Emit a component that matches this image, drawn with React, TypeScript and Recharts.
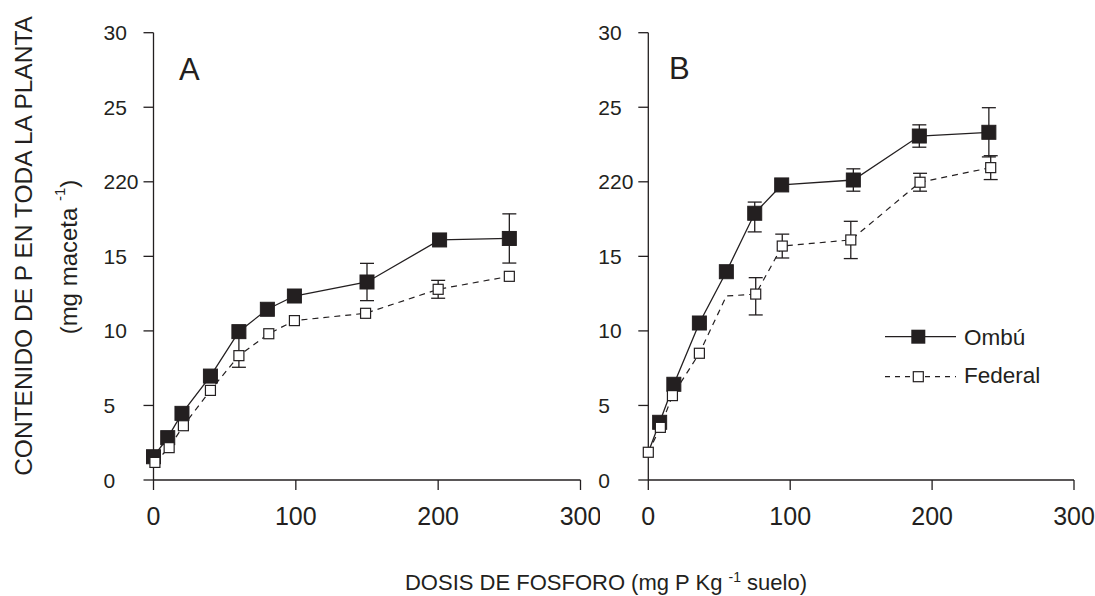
import React from "react";
import { ErrorBar, Legend, Line, LineChart, XAxis, YAxis } from "recharts";

const FONT = '"Liberation Sans", Arial, Helvetica, sans-serif';
const INK = "#231f20";

// ejes
const X_TICKS = [0, 100, 200, 300];
const Y_TICKS = [0, 5, 10, 15, 20, 25, 30];
const Y_TICK_LABELS = ["0", "5", "10", "15", "220", "25", "30"];

// Panel A
const A_OMBU_DOSE = [0, 10, 20, 40, 60, 80, 99, 150, 201, 250];
const A_OMBU_P = [1.56, 2.84, 4.47, 6.97, 9.95, 11.45, 12.34, 13.28, 16.1, 16.2];
const A_OMBU_ERR = [null, null, null, null, null, null, null, 1.25, null, 1.65];

const A_FED_DOSE = [1, 11, 21, 40, 60, 81, 99, 149, 200, 250];
const A_FED_P = [1.18, 2.17, 3.64, 6.01, 8.34, 9.81, 10.69, 11.18, 12.79, 13.66];
const A_FED_ERR = [null, null, null, null, [0.78, 1.2], null, null, null, 0.6, null];

// Panel B
const B_OMBU_DOSE = [0, 8, 18, 36, 55, 75, 94, 144.5, 191, 240];
const B_OMBU_P = [1.86, 3.87, 6.42, 10.53, 13.97, 17.89, 19.79, 20.12, 23.07, 23.32];
const B_OMBU_ERR = [null, null, null, null, null, [1.25, 0.75], null, 0.75, 0.75, 1.65];

const B_FED_DOSE = [0, 8.5, 17, 36, 55, 75.7, 94.4, 142.7, 191.5, 241.3];
const B_FED_P = [1.86, 3.53, 5.66, 8.5, 12.34, 12.47, 15.69, 16.1, 19.97, 20.95];
const B_FED_ERR = [null, null, null, null, null, [1.4, 1.1], 0.8, 1.25, 0.6, 0.8];

const B_OMBU_NO_MARK = [0];
const B_FED_NO_MARK = [4];

type Pt = { x: number; y: number; err: number | number[] | null };

function toRows(dose: number[], p: number[], err: (number | number[] | null)[]): Pt[] {
  return dose.map((x, i) => ({ x, y: p[i], err: err[i] }));
}

function squareDot(size: number, filled: boolean, hidden: number[] = []) {
  return (props: any) => {
    const { cx, cy, index } = props;
    const key = `dot-${index}`;
    if (cx == null || cy == null || hidden.includes(index)) return <g key={key} />;
    return (
      <rect
        key={key}
        x={cx - size / 2}
        y={cy - size / 2}
        width={size}
        height={size}
        fill={filled ? INK : "#fff"}
        stroke={INK}
        strokeWidth={filled ? 1 : 1.2}
      />
    );
  };
}

function YTick(props: any) {
  const { x, y, payload } = props;
  const i = Y_TICKS.indexOf(payload.value);
  return (
    <text x={x - 38} y={y} dy="0.36em" textAnchor="start" fontSize={21} fontFamily={FONT} fill={INK}>
      {Y_TICK_LABELS[i] ?? payload.value}
    </text>
  );
}

function XTick(props: any) {
  const { x, y, payload } = props;
  return (
    <text x={x} y={y + 24} dy="0.36em" textAnchor="middle" fontSize={25} fontFamily={FONT} fill={INK}>
      {payload.value}
    </text>
  );
}

function LegendBox() {
  return (
    <svg width={200} height={80} style={{ display: "block" }}>
      <line x1={0} y1={20.7} x2={71} y2={20.7} stroke={INK} strokeWidth={1.3} />
      <rect x={26.3} y={13.7} width={14} height={14} fill={INK} />
      <text x={79} y={29} fontSize={22.5} fontFamily={FONT} fill={INK}>
        Ombú
      </text>
      <line x1={0} y1={60.7} x2={71} y2={60.7} stroke={INK} strokeWidth={1.2} strokeDasharray="5 5" />
      <rect x={28.3} y={55.7} width={10} height={10} fill="#fff" stroke={INK} strokeWidth={1.2} />
      <text x={79} y={67} fontSize={22.5} fontFamily={FONT} fill={INK}>
        Federal
      </text>
    </svg>
  );
}

type PanelProps = {
  left: number;
  axisWidth: number;
  rightMargin: number;
  ombu: Pt[];
  federal: Pt[];
  ombuHidden?: number[];
  fedHidden?: number[];
  withLegend?: boolean;
};

function Panel({ left, axisWidth, rightMargin, ombu, federal, ombuHidden, fedHidden, withLegend }: PanelProps) {
  return (
    <div style={{ position: "absolute", left, top: 0 }}>
      <LineChart width={600} height={596} margin={{ top: 32.7, right: rightMargin, bottom: 76, left: 0 }}>
        <XAxis
          type="number"
          dataKey="x"
          domain={[0, 300]}
          ticks={X_TICKS}
          interval={0}
          height={40}
          tickSize={10}
          axisLine={{ stroke: INK, strokeWidth: 1.3 }}
          tickLine={{ stroke: INK, strokeWidth: 1.3 }}
          tick={<XTick />}
        />
        <YAxis
          type="number"
          domain={[0, 30]}
          ticks={Y_TICKS}
          interval={0}
          width={axisWidth}
          tickSize={10}
          axisLine={{ stroke: INK, strokeWidth: 1.3 }}
          tickLine={{ stroke: INK, strokeWidth: 1.3 }}
          tick={<YTick />}
        />
        <Line
          data={ombu}
          dataKey="y"
          stroke={INK}
          strokeWidth={1.3}
          dot={squareDot(14, true, ombuHidden)}
          activeDot={false}
          isAnimationActive={false}
        >
          <ErrorBar dataKey="err" direction="y" width={7} stroke={INK} strokeWidth={1.3} isAnimationActive={false} />
        </Line>
        <Line
          data={federal}
          dataKey="y"
          stroke={INK}
          strokeWidth={1.2}
          strokeDasharray="6 5"
          dot={squareDot(10, false, fedHidden)}
          activeDot={false}
          isAnimationActive={false}
        >
          <ErrorBar dataKey="err" direction="y" width={7} stroke={INK} strokeWidth={1.3} isAnimationActive={false} />
        </Line>
        {withLegend && (
          <Legend
            layout="horizontal"
            verticalAlign="middle"
            align="center"
            content={<LegendBox />}
            wrapperStyle={{ position: "absolute", left: 390, top: 316, width: 200 }}
          />
        )}
      </LineChart>
    </div>
  );
}

export default function App() {
  const aOmbu = toRows(A_OMBU_DOSE, A_OMBU_P, A_OMBU_ERR);
  const aFed = toRows(A_FED_DOSE, A_FED_P, A_FED_ERR);
  const bOmbu = toRows(B_OMBU_DOSE, B_OMBU_P, B_OMBU_ERR);
  const bFed = toRows(B_FED_DOSE, B_FED_P, B_FED_ERR);

  return (
    <div style={{ position: "absolute", left: 0, top: 0, width: 1095, height: 596, background: "#fff", overflow: "hidden" }}>
      <Panel left={0} axisWidth={153.5} rightMargin={19.5} ombu={aOmbu} federal={aFed} />
      <Panel
        left={495}
        axisWidth={153.3}
        rightMargin={21}
        ombu={bOmbu}
        federal={bFed}
        ombuHidden={B_OMBU_NO_MARK}
        fedHidden={B_FED_NO_MARK}
        withLegend
      />
      <svg width={1095} height={596} style={{ position: "absolute", left: 0, top: 0, pointerEvents: "none" }}>
        <g fontFamily={FONT} fill={INK}>
          <text x={179} y={80} fontSize={31}>A</text>
          <text x={669} y={78.5} fontSize={31}>B</text>
          <text
            x={23}
            y={246}
            fontSize={24.5}
            textAnchor="middle"
            dominantBaseline="central"
            transform="rotate(-90, 23, 246)"
          >
            CONTENIDO DE P EN TODA LA PLANTA
          </text>
          <text
            x={68}
            y={257}
            fontSize={24}
            textAnchor="middle"
            dominantBaseline="central"
            transform="rotate(-90, 68, 257)"
          >
            (mg maceta{" "}
            <tspan fontSize={15} dy={-9}>
              -1
            </tspan>
            <tspan dy={9}>)</tspan>
          </text>
          <text x={606} y={590} fontSize={22} textAnchor="middle">
            DOSIS DE FOSFORO (mg P Kg{" "}
            <tspan fontSize={14} dy={-8}>
              -1
            </tspan>
            <tspan dy={8}> suelo)</tspan>
          </text>
        </g>
      </svg>
    </div>
  );
}
